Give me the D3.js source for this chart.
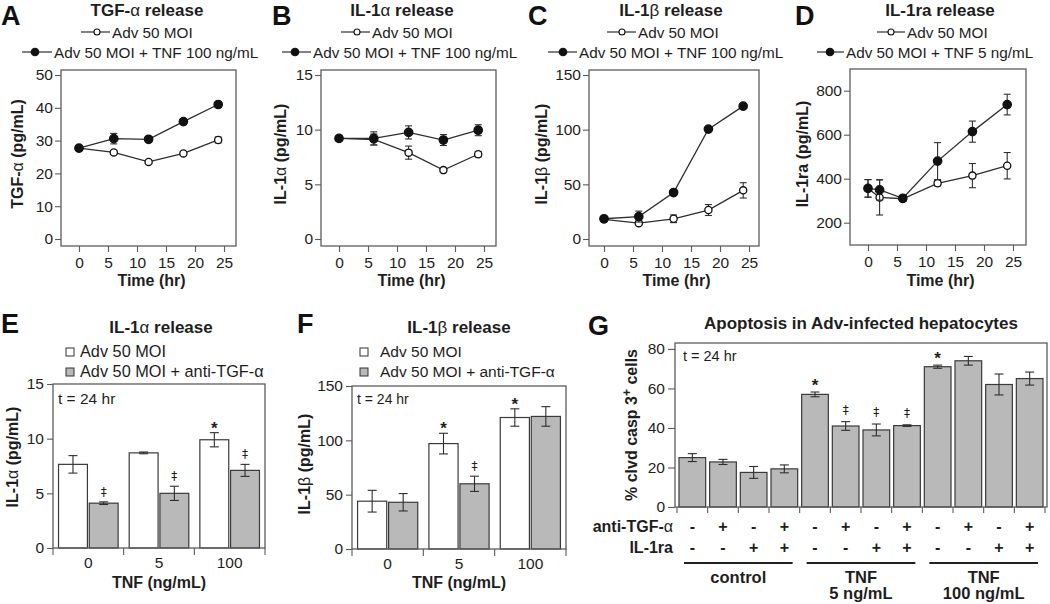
<!DOCTYPE html>
<html>
<head>
<meta charset="utf-8">
<script src="https://cdn.jsdelivr.net/npm/d3@7"></script>
<style>
  body { margin: 0; background: #fff; }
  svg { display: block; font-family: "Liberation Sans", Arial, sans-serif; }
</style>
</head>
<body>
<script>
// ---- data ----
const timePts = [0, 6, 12, 18, 24];
const timeRa = [0, 2, 6, 12, 18, 24];

const tgfAdv = [27.7, 26.4, 23.5, 26.1, 30.2];
const tgfAdvErr = [0.5, 0.6, 0.5, 0.5, 0.9];
const tgfTnf = [27.7, 30.6, 30.4, 35.8, 41.0];
const tgfTnfErr = [0.5, 1.6, 0.8, 0.5, 0.7];

const il1aAdv = [9.2, 9.1, 7.9, 6.3, 7.75];
const il1aAdvErr = [0.2, 0.5, 0.6, 0.15, 0.25];
const il1aTnf = [9.2, 9.2, 9.75, 9.05, 9.95];
const il1aTnfErr = [0.2, 0.6, 0.6, 0.5, 0.5];

const il1bAdv = [18, 14.5, 18.5, 26.5, 44.5];
const il1bAdvErr = [1.5, 2, 3.5, 5, 7];
const il1bTnf = [18.5, 20.5, 42.5, 100.5, 121.5];
const il1bTnfErr = [1.5, 5, 2, 1.5, 2];

const il1raAdv = [356, 315, 309, 379, 414, 459];
const il1raAdvErr = [40, 80, 10, 12, 55, 60];
const il1raTnf = [356, 349, 311, 480, 614, 737];
const il1raTnfErr = [40, 46, 12, 84, 48, 47];

const tnfDoses = ["0", "5", "100"];
const il1aBarAdv = [7.65, 8.7, 9.9];
const il1aBarAdvErr = [0.8, 0.08, 0.65];
const il1aBarAnti = [4.1, 5.0, 7.1];
const il1aBarAntiErr = [0.12, 0.65, 0.55];
const il1aAdvMarks = ["", "", "*"];
const il1aAntiMarks = ["‡", "‡", "‡"];

const il1bBarAdv = [44, 97, 121];
const il1bBarAdvErr = [10, 9.5, 8];
const il1bBarAnti = [43, 60, 122];
const il1bBarAntiErr = [8, 7, 9];
const il1bAdvMarks = ["", "*", "*"];
const il1bAntiMarks = ["", "‡", ""];

const apoptosis = [25, 22.8, 17.5, 19.3, 57, 41, 39, 41.2, 71, 74, 62, 65];
const apoptosisErr = [2, 1.3, 3, 2, 1.2, 2.2, 3, 0.4, 0.8, 2.2, 5.3, 3.3];
const antiTgfRow = ["-", "+", "-", "+", "-", "+", "-", "+", "-", "+", "-", "+"];
const il1raRow = ["-", "-", "+", "+", "-", "-", "+", "+", "-", "-", "+", "+"];
const apoptosisMarks = ["", "", "", "", "*", "‡", "‡", "‡", "*", "", "", ""];
const treatGroups = [["control"], ["TNF", "5 ng/mL"], ["TNF", "100 ng/mL"]];

// ---- drawing ----
const ink = "#1e1e1e", frameInk = "#5c5c5c", lineInk = "#2e2e2e", grayFill = "#b9b9b9";

const svg = d3.select("body").append("svg")
    .attr("width", 1050)
    .attr("height", 604);

// greek letters are set in normal weight, as in the figure
function rich(sel, str) {
    str.split(/([αβ])/).forEach(part => {
        if (!part) return;
        const t = sel.append("tspan").text(part);
        if (/[αβ]/.test(part)) t.attr("font-weight", "normal");
    });
    return sel;
}

function styleAxis(a, size) {
    a.attr("font-family", null).attr("font-size", size);
    a.selectAll("text").attr("fill", ink);
    a.selectAll("line").attr("stroke", frameInk).attr("stroke-width", 1.1);
    a.select(".domain").remove();
}

function drawFrame(g, f) {
    g.append("rect")
        .attr("x", f[0]).attr("y", f[1])
        .attr("width", f[2] - f[0]).attr("height", f[3] - f[1])
        .attr("fill", "none")
        .attr("stroke", frameInk)
        .attr("stroke-width", 1.3);
}

function panelLetter(x, y, s) {
    svg.append("text")
        .attr("x", x).attr("y", y)
        .attr("font-size", 27)
        .attr("font-weight", "bold")
        .attr("fill", "#111")
        .text(s);
}

function boldText(g, x, y, str, size, anchor) {
    const t = g.append("text")
        .attr("x", x).attr("y", y)
        .attr("text-anchor", anchor || "middle")
        .attr("font-size", size)
        .attr("font-weight", "bold")
        .attr("fill", ink);
    return rich(t, str);
}

function yTitle(g, x, cy, str) {
    const t = g.append("text")
        .attr("transform", `translate(${x},${cy}) rotate(-90)`)
        .attr("text-anchor", "middle")
        .attr("font-size", 16)
        .attr("font-weight", "bold")
        .attr("fill", ink);
    return rich(t, str);
}

function errorBar(g, cx, yTop, yBot, half) {
    g.append("line").attr("x1", cx).attr("x2", cx).attr("y1", yTop).attr("y2", yBot);
    g.append("line").attr("x1", cx - half).attr("x2", cx + half).attr("y1", yTop).attr("y2", yTop);
    g.append("line").attr("x1", cx - half).attr("x2", cx + half).attr("y1", yBot).attr("y2", yBot);
}

// significance marks above an error bar
function mark(g, cx, top, m) {
    if (m === "*") {
        g.append("text").attr("x", cx).attr("y", top)
            .attr("text-anchor", "middle").attr("font-size", 17)
            .attr("font-weight", "bold").attr("fill", ink).text("*");
    } else if (m) {
        g.append("text").attr("x", cx).attr("y", top - 7)
            .attr("text-anchor", "middle").attr("font-size", 12)
            .attr("font-family", "DejaVu Sans")
            .attr("fill", ink).text(m);
    }
}

function linePanel(o) {
    const g = svg.append("g");
    const f = o.frame;
    const x = d3.scaleLinear().domain([0, 25]).range(o.xRange);
    const y = d3.scaleLinear().domain(o.yDomain).range(o.yRange);

    boldText(g, o.titleX, 16, o.title, 17);

    // legend
    const legendRows = [
        {pos: o.leg1, label: "Adv 50 MOI", open: true, cy: 32},
        {pos: o.leg2, label: o.tnfLabel, open: false, cy: 52}
    ];
    legendRows.forEach(r => {
        g.append("line")
            .attr("x1", r.pos[0]).attr("x2", r.pos[2])
            .attr("y1", r.cy).attr("y2", r.cy)
            .attr("stroke", lineInk).attr("stroke-width", 1.2);
        g.append("circle")
            .attr("cx", r.pos[1]).attr("cy", r.cy)
            .attr("r", r.open ? 3 : 3.8)
            .attr("fill", r.open ? "#fff" : "#111")
            .attr("stroke", "#111").attr("stroke-width", 1.1);
        g.append("text")
            .attr("x", r.pos[3]).attr("y", r.cy + 5.5)
            .attr("font-size", 15.3)
            .attr("fill", ink)
            .text(r.label);
    });

    drawFrame(g, f);

    const ya = g.append("g")
        .attr("transform", `translate(${f[0]},0)`)
        .call(d3.axisLeft(y).tickValues(o.yTicks).tickSize(6).tickPadding(2));
    styleAxis(ya, 15.5);

    const xa = g.append("g")
        .attr("transform", `translate(0,${f[3]})`)
        .call(d3.axisBottom(x).tickValues([0, 5, 10, 15, 20, 25]).tickSize(6).tickPadding(5));
    styleAxis(xa, 15.5);

    boldText(g, (o.xRange[0] + o.xRange[1]) / 2, 286, "Time (hr)", 16);
    yTitle(g, o.yTitleX, 154, o.yTitle);

    const line = d3.line().x(d => x(d.t)).y(d => y(d.v));
    const series = [
        {vals: o.adv, err: o.advErr, open: true},
        {vals: o.tnf, err: o.tnfErr, open: false}
    ];
    series.forEach(s => {
        const pts = o.time.map((t, i) => ({t: t, v: s.vals[i], e: s.err[i]}));
        g.append("path")
            .datum(pts)
            .attr("d", line)
            .attr("fill", "none")
            .attr("stroke", lineInk)
            .attr("stroke-width", 1.3);
        const eb = g.append("g").attr("stroke", lineInk).attr("stroke-width", 1.1);
        pts.forEach(p => errorBar(eb, x(p.t), y(p.v + p.e), y(p.v - p.e), 3.5));
        g.selectAll(null)
            .data(pts)
            .join("circle")
            .attr("cx", d => x(d.t))
            .attr("cy", d => y(d.v))
            .attr("r", s.open ? 3.6 : 4.2)
            .attr("fill", s.open ? "#fff" : "#111")
            .attr("stroke", "#111")
            .attr("stroke-width", 1.3);
    });
}

linePanel({
    frame: [61, 70, 236, 246], xRange: [79, 224],
    yDomain: [0, 50], yRange: [239, 75], yTicks: [0, 10, 20, 30, 40, 50],
    time: timePts, adv: tgfAdv, advErr: tgfAdvErr, tnf: tgfTnf, tnfErr: tgfTnfErr,
    title: "TGF-α release", titleX: 147, yTitle: "TGF-α (pg/mL)", yTitleX: 23,
    tnfLabel: "Adv 50 MOI + TNF 100 ng/mL",
    leg1: [81, 97, 110, 112], leg2: [22, 35, 52, 54]
});
linePanel({
    frame: [321, 70, 496, 246], xRange: [339, 484],
    yDomain: [0, 15], yRange: [239, 75], yTicks: [0, 5, 10, 15],
    time: timePts, adv: il1aAdv, advErr: il1aAdvErr, tnf: il1aTnf, tnfErr: il1aTnfErr,
    title: "IL-1α release", titleX: 402, yTitle: "IL-1α (pg/mL)", yTitleX: 286,
    tnfLabel: "Adv 50 MOI + TNF 100 ng/mL",
    leg1: [341, 357, 370, 372], leg2: [282, 295, 311, 313]
});
linePanel({
    frame: [589, 70, 759, 246], xRange: [604, 749],
    yDomain: [0, 150], yRange: [239, 75], yTicks: [0, 50, 100, 150],
    time: timePts, adv: il1bAdv, advErr: il1bAdvErr, tnf: il1bTnf, tnfErr: il1bTnfErr,
    title: "IL-1β release", titleX: 671, yTitle: "IL-1β (pg/mL)", yTitleX: 547,
    tnfLabel: "Adv 50 MOI + TNF 100 ng/mL",
    leg1: [607, 622, 636, 638], leg2: [548, 563, 577, 579]
});
linePanel({
    frame: [850, 69, 1026, 245], xRange: [868, 1013],
    yDomain: [200, 800], yRange: [222.7, 90.7], yTicks: [200, 400, 600, 800],
    time: timeRa, adv: il1raAdv, advErr: il1raAdvErr, tnf: il1raTnf, tnfErr: il1raTnfErr,
    title: "IL-1ra release", titleX: 940, yTitle: "IL-1ra (pg/mL)", yTitleX: 808,
    tnfLabel: "Adv 50 MOI + TNF 5 ng/mL",
    leg1: [877, 891, 905, 907], leg2: [817, 830, 844, 846]
});

function pairBarPanel(o) {
    const g = svg.append("g");
    const f = o.frame;
    const y = d3.scaleLinear().domain(o.yDomain).range([f[3], f[1]]);
    const x0 = d3.scaleBand().domain(tnfDoses).range([f[0], f[2]]);
    const x1 = d3.scaleBand().domain(["adv", "anti"]).range([0, x0.bandwidth()])
        .paddingInner(0.06).paddingOuter(0.18);

    boldText(g, o.titleX, 333, o.title, 17);

    // legend
    [{k: "adv", label: "Adv 50 MOI", fill: "#fff", cy: 352},
     {k: "anti", label: "Adv 50 MOI + anti-TGF-α", fill: grayFill, cy: 372}].forEach(r => {
        g.append("rect")
            .attr("x", o.legX).attr("y", r.cy - 4)
            .attr("width", 8).attr("height", 8)
            .attr("fill", r.fill).attr("stroke", "#333").attr("stroke-width", 1);
        g.append("text")
            .attr("x", o.legTextX).attr("y", r.cy + 5)
            .attr("font-size", o.legSize)
            .attr("fill", ink)
            .text(r.label);
    });

    const series = [
        {k: "adv", vals: o.adv, err: o.advErr, marks: o.advMarks, fill: "#fff"},
        {k: "anti", vals: o.anti, err: o.antiErr, marks: o.antiMarks, fill: grayFill}
    ];
    series.forEach(s => {
        g.selectAll(null)
            .data(tnfDoses)
            .join("rect")
            .attr("x", d => x0(d) + x1(s.k))
            .attr("y", (d, i) => y(s.vals[i]))
            .attr("width", x1.bandwidth())
            .attr("height", (d, i) => y(0) - y(s.vals[i]))
            .attr("fill", s.fill)
            .attr("stroke", "#3a3a3a")
            .attr("stroke-width", 1.2);
        const eb = g.append("g").attr("stroke", lineInk).attr("stroke-width", 1.1);
        tnfDoses.forEach((d, i) => {
            const cx = x0(d) + x1(s.k) + x1.bandwidth() / 2;
            const top = y(s.vals[i] + s.err[i]);
            errorBar(eb, cx, top, y(s.vals[i] - s.err[i]), 4.5);
            mark(g, cx, top + 1, s.marks[i]);
        });
    });

    drawFrame(g, f);

    const ya = g.append("g")
        .attr("transform", `translate(${f[0]},0)`)
        .call(d3.axisLeft(y).tickValues(o.yTicks).tickSize(6).tickPadding(3));
    styleAxis(ya, 15.5);

    // ticks on the group boundaries, labels under the group centres
    const bounds = tnfDoses.map(d => x0(d)).concat([f[2]]);
    g.selectAll(null)
        .data(bounds)
        .join("line")
        .attr("x1", d => d).attr("x2", d => d)
        .attr("y1", f[3]).attr("y2", f[3] + 7)
        .attr("stroke", frameInk).attr("stroke-width", 1.1);
    g.selectAll(null)
        .data(tnfDoses)
        .join("text")
        .attr("x", d => x0(d) + x0.bandwidth() / 2)
        .attr("y", f[3] + 20)
        .attr("text-anchor", "middle")
        .attr("font-size", 15.5)
        .attr("fill", ink)
        .text(d => d);

    boldText(g, (f[0] + f[2]) / 2, 588, "TNF (ng/mL)", 16);
    yTitle(g, o.yTitleX, o.yTitleY, o.yTitle);

    g.append("text")
        .attr("x", f[0] + 5).attr("y", 404)
        .attr("font-size", o.tSize)
        .attr("fill", ink)
        .text("t = 24 hr");
}

pairBarPanel({
    frame: [53, 384, 265, 548], yDomain: [0, 15], yTicks: [0, 5, 10, 15],
    adv: il1aBarAdv, advErr: il1aBarAdvErr, anti: il1aBarAnti, antiErr: il1aBarAntiErr,
    advMarks: il1aAdvMarks, antiMarks: il1aAntiMarks,
    title: "IL-1α release", titleX: 161, yTitle: "IL-1α (pg/mL)", yTitleX: 18, yTitleY: 457,
    legX: 66, legTextX: 80, legSize: 16.3, tSize: 15.5
});
pairBarPanel({
    frame: [352, 386, 566, 549], yDomain: [0, 150], yTicks: [0, 50, 100, 150],
    adv: il1bBarAdv, advErr: il1bBarAdvErr, anti: il1bBarAnti, antiErr: il1bBarAntiErr,
    advMarks: il1bAdvMarks, antiMarks: il1bAntiMarks,
    title: "IL-1β release", titleX: 459, yTitle: "IL-1β (pg/mL)", yTitleX: 310, yTitleY: 464,
    legX: 360, legTextX: 380, legSize: 15.5, tSize: 14
});

// ---- panel G ----
(function () {
    const g = svg.append("g");
    const f = [675, 343, 1047, 507];
    const idx = d3.range(apoptosis.length);
    const x = d3.scaleBand().domain(idx).range([f[0], f[2]]).paddingInner(0.13).paddingOuter(0.13);
    const y = d3.scaleLinear().domain([0, 83]).range([f[3], f[1]]);
    const gap = x.step() - x.bandwidth();

    boldText(g, 861, 329, "Apoptosis in Adv-infected hepatocytes", 17);

    g.selectAll(null)
        .data(idx)
        .join("rect")
        .attr("x", d => x(d))
        .attr("y", d => y(apoptosis[d]))
        .attr("width", x.bandwidth())
        .attr("height", d => y(0) - y(apoptosis[d]))
        .attr("fill", grayFill)
        .attr("stroke", "#3a3a3a")
        .attr("stroke-width", 1.2);

    const eb = g.append("g").attr("stroke", lineInk).attr("stroke-width", 1.1);
    idx.forEach(i => {
        const cx = x(i) + x.bandwidth() / 2;
        const top = y(apoptosis[i] + apoptosisErr[i]);
        errorBar(eb, cx, top, y(apoptosis[i] - apoptosisErr[i]), 4.5);
        mark(g, cx, top - 1, apoptosisMarks[i]);
    });

    drawFrame(g, f);

    const ya = g.append("g")
        .attr("transform", `translate(${f[0]},0)`)
        .call(d3.axisLeft(y).tickValues([0, 20, 40, 60, 80]).tickSize(7).tickPadding(3));
    styleAxis(ya, 15.5);

    const ticks = idx.map(i => x(i) - gap / 2).concat([x(idx.length - 1) + x.bandwidth() + gap / 2]);
    g.selectAll(null)
        .data(ticks)
        .join("line")
        .attr("x1", d => d).attr("x2", d => d)
        .attr("y1", f[3]).attr("y2", f[3] + 6)
        .attr("stroke", frameInk).attr("stroke-width", 1.1);

    g.append("text")
        .attr("x", f[0] + 8).attr("y", 361)
        .attr("font-size", 14.5)
        .attr("fill", ink)
        .text("t = 24 hr");

    // treatment table under the axis
    [{label: "anti-TGF-α", row: antiTgfRow, yb: 532},
     {label: "IL-1ra", row: il1raRow, yb: 553}].forEach(r => {
        boldText(g, 673, r.yb, r.label, 16, "end");
        g.selectAll(null)
            .data(idx)
            .join("text")
            .attr("x", d => x(d) + x.bandwidth() / 2)
            .attr("y", r.yb)
            .attr("text-anchor", "middle")
            .attr("font-size", 16)
            .attr("font-weight", "bold")
            .attr("fill", ink)
            .text(d => r.row[d]);
    });

    treatGroups.forEach((lab, gi) => {
        const a = x(gi * 4), b = x(gi * 4 + 3) + x.bandwidth();
        g.append("line")
            .attr("x1", a + 5).attr("x2", b - 5)
            .attr("y1", 563).attr("y2", 563)
            .attr("stroke", "#222").attr("stroke-width", 2);
        lab.forEach((s, li) => boldText(g, (a + b) / 2, 583 + li * 16, s, 16.5));
    });

    const yt = g.append("text")
        .attr("transform", `translate(637,425) rotate(-90)`)
        .attr("text-anchor", "middle")
        .attr("font-size", 16)
        .attr("font-weight", "bold")
        .attr("fill", ink);
    yt.append("tspan").text("% clvd casp 3");
    yt.append("tspan").attr("dy", -6).attr("font-size", 12).text("+");
    yt.append("tspan").attr("dy", 6).text(" cells");
})();

panelLetter(1, 25, "A");
panelLetter(272, 25, "B");
panelLetter(528, 25, "C");
panelLetter(795, 25, "D");
panelLetter(1, 333, "E");
panelLetter(297, 333, "F");
panelLetter(588, 335, "G");
</script>
</body>
</html>
